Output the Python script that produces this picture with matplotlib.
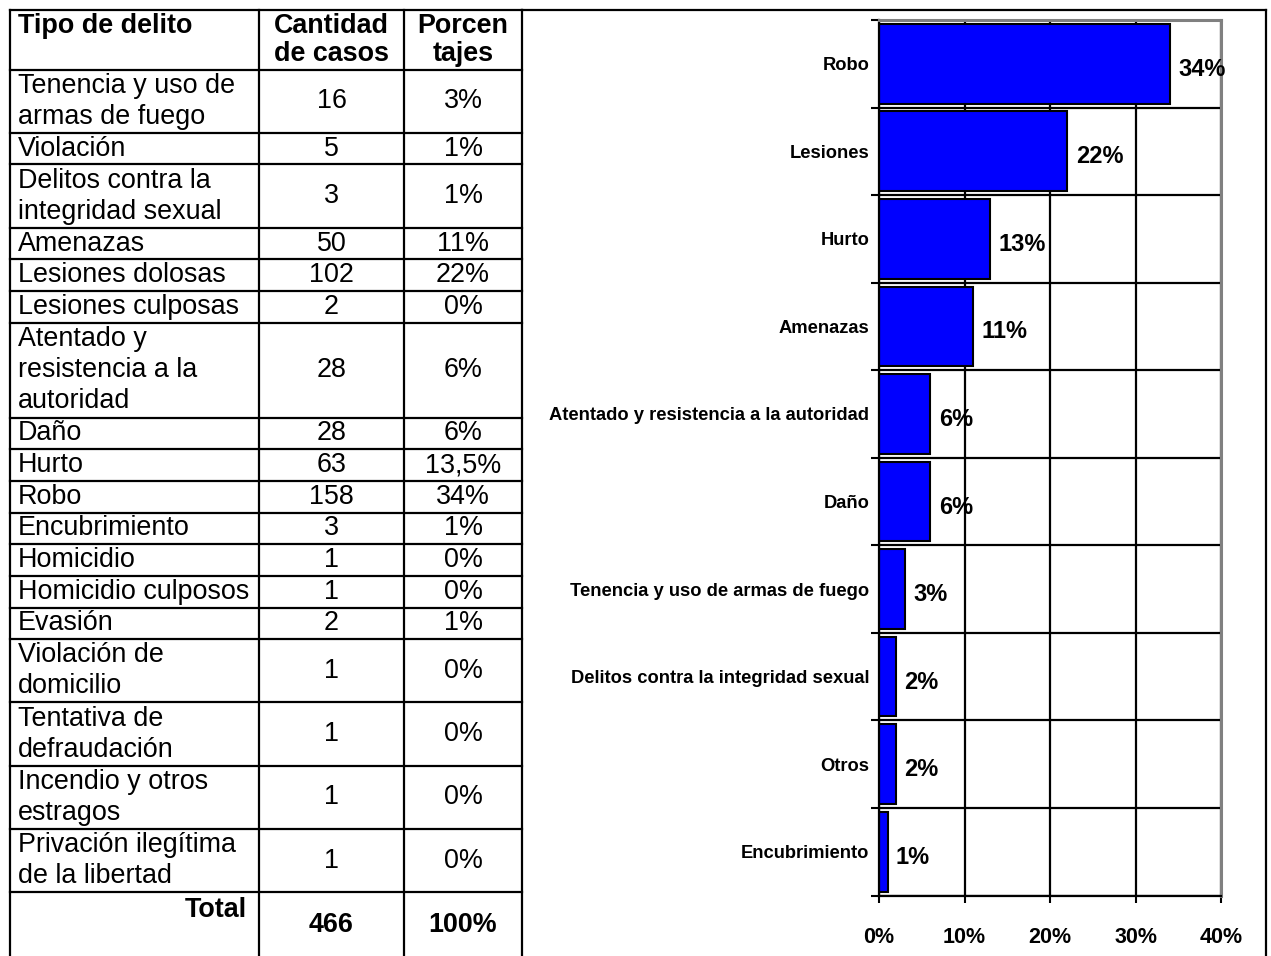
import matplotlib.pyplot as plt
from matplotlib import font_manager as fm

# table data
tipos = ["Tenencia y uso de\narmas de fuego", "Violación", "Delitos contra la\nintegridad sexual",
         "Amenazas", "Lesiones dolosas", "Lesiones culposas",
         "Atentado y\nresistencia a la\nautoridad", "Daño", "Hurto", "Robo", "Encubrimiento",
         "Homicidio", "Homicidio culposos", "Evasión", "Violación de\ndomicilio",
         "Tentativa de\ndefraudación", "Incendio y otros\nestragos",
         "Privación ilegítima\nde la libertad"]
casos = [16, 5, 3, 50, 102, 2, 28, 28, 63, 158, 3, 1, 1, 2, 1, 1, 1, 1]
porcentajes = ["3%", "1%", "1%", "11%", "22%", "0%", "6%", "6%", "13,5%", "34%", "1%",
               "0%", "0%", "1%", "0%", "0%", "0%", "0%"]
encabezados = ["Tipo de delito", "Cantidad\nde casos", "Porcen\ntajes"]
total_casos = 466
total_pct = "100%"

# chart data
categorias = ["Robo", "Lesiones", "Hurto", "Amenazas", "Atentado y resistencia a la autoridad",
              "Daño", "Tenencia y uso de armas de fuego", "Delitos contra la integridad sexual",
              "Otros", "Encubrimiento"]
valores = [34, 22, 13, 11, 6, 6, 3, 2, 2, 1]
xticks = [0, 10, 20, 30, 40]

names = {f.name for f in fm.fontManager.ttflist}
if 'Liberation Sans Narrow' in names:
    narrow, narrow_size = 'Liberation Sans Narrow', 14.5
else:
    narrow, narrow_size = 'Liberation Sans', 13.2
plt.rcParams['font.family'] = ['Liberation Sans', 'DejaVu Sans']

W, H = 1271, 956
fig = plt.figure(figsize=(W / 100, H / 100), dpi=100)

# ---- table (drawn in pixel-like layout coords) ----
tab = fig.add_axes([0, 0, 1, 1])
tab.set_xlim(0, W)
tab.set_ylim(H, 0)
tab.axis('off')

col_x = [10, 259, 404, 522]
line_h = 31.65
top = 9.5
edges = [top, top + 60]
for t in tipos:
    edges.append(edges[-1] + line_h * (t.count('\n') + 1))

lw = 1.6
for e in edges:
    tab.plot([col_x[0], col_x[-1]], [e, e], color='black', lw=lw, solid_capstyle='projecting')
for x in col_x:
    tab.plot([x, x], [top, H], color='black', lw=lw, solid_capstyle='projecting')

fs = 19.4
tab.text(18, 13, encabezados[0], fontsize=fs, fontweight='bold', va='top', ha='left')
tab.text((col_x[1] + col_x[2]) / 2, 13, encabezados[1], fontsize=fs, fontweight='bold',
         va='top', ha='center', linespacing=1.1)
tab.text((col_x[2] + col_x[3]) / 2, 13, encabezados[2], fontsize=fs, fontweight='bold',
         va='top', ha='center', linespacing=1.1)

for i, (t, c, p) in enumerate(zip(tipos, casos, porcentajes)):
    yc = (edges[i + 1] + edges[i + 2]) / 2
    tab.text(18, yc, t, fontsize=fs, va='center', ha='left', linespacing=1.25)
    tab.text((col_x[1] + col_x[2]) / 2, yc, str(c), fontsize=fs, va='center', ha='center')
    tab.text((col_x[2] + col_x[3]) / 2, yc, p, fontsize=fs, va='center', ha='center')

yt = edges[-1]
tab.text(247, yt + 5, "Total", fontsize=fs, fontweight='bold', va='top', ha='right')
tab.text((col_x[1] + col_x[2]) / 2, (yt + H) / 2 + 1, str(total_casos), fontsize=fs,
         fontweight='bold', va='center', ha='center')
tab.text((col_x[2] + col_x[3]) / 2, (yt + H) / 2 + 1, total_pct, fontsize=fs,
         fontweight='bold', va='center', ha='center')

# chart frame
tab.plot([col_x[-1], 1265.5], [top, top], color='black', lw=lw, solid_capstyle='projecting')
tab.plot([1265.5, 1265.5], [top, H], color='black', lw=lw, solid_capstyle='projecting')

# ---- bar chart ----
x0, x1, y_top, y_bot = 879, 1221.5, 20, 895.5
ax = fig.add_axes([x0 / W, (H - y_bot) / H, (x1 - x0) / W, (y_bot - y_top) / H])
pos = list(range(len(categorias)))
ax.barh(pos, valores, height=0.91, color='#0000FF', edgecolor='black', linewidth=1.5, zorder=2)
ax.set_xlim(0, 40)
ax.set_ylim(len(categorias) - 0.5, -0.5)

ax.set_yticks([p - 0.5 for p in pos] + [len(categorias) - 0.5])
ax.set_yticklabels([])
ax.set_yticks(pos, minor=True)
ax.set_yticklabels(categorias, minor=True, fontfamily=narrow, fontsize=narrow_size,
                   fontweight='bold')
ax.tick_params(axis='y', which='major', length=6, width=1.5, direction='out', color='black')
ax.tick_params(axis='y', which='minor', length=0, pad=7)

ax.set_xticks(xticks)
ax.set_xticklabels([f"{v}%" for v in xticks], fontsize=15.5, fontweight='bold')
ax.tick_params(axis='x', length=5, width=1.5, direction='out', pad=18)

ax.set_axisbelow(True)
ax.grid(True, axis='both', which='major', color='black', linewidth=1.6)

for side in ['top', 'right']:
    ax.spines[side].set_color('#808080')
    ax.spines[side].set_linewidth(2.2)
for side in ['left', 'bottom']:
    ax.spines[side].set_color('black')
    ax.spines[side].set_linewidth(1.6)

for p, v in zip(pos, valores):
    ax.annotate(f"{v}%", (v, p), xytext=(6, -4), textcoords='offset points',
                ha='left', va='center', fontsize=17, fontweight='bold')

fig.savefig('out.png', dpi=100, facecolor='white')
